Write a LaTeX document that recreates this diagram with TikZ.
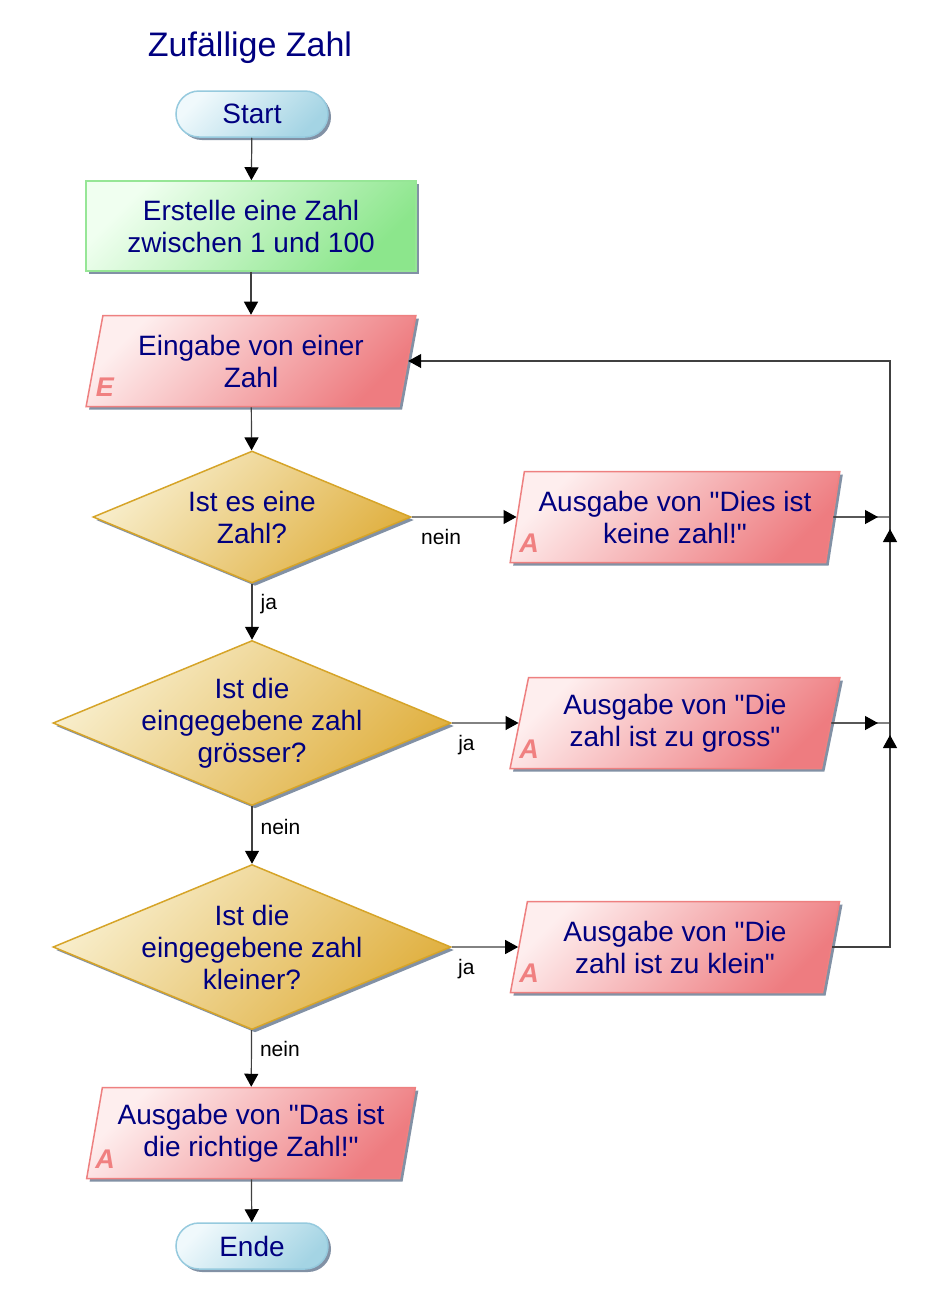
\documentclass[tikz,border=0pt]{standalone}
\usepackage{fontspec}
\setmainfont{Liberation Sans}[Ligatures=TeXOff]
\usetikzlibrary{arrows.meta, shapes.geometric, shadows}

\definecolor{navytext}{RGB}{0,0,128}
\definecolor{linegray}{RGB}{64,64,64}
\definecolor{shadowgray}{RGB}{130,145,165}
\definecolor{termlight}{RGB}{240,249,252}
\definecolor{termfill}{RGB}{164,212,228}
\definecolor{termdraw}{RGB}{150,202,222}
\definecolor{proclight}{RGB}{240,255,240}
\definecolor{procfill}{RGB}{140,230,140}
\definecolor{procdraw}{RGB}{150,230,150}
\definecolor{iolight}{RGB}{254,238,238}
\definecolor{iofill}{RGB}{238,124,128}
\definecolor{iodraw}{RGB}{238,128,128}
\definecolor{declight}{RGB}{248,238,204}
\definecolor{decfill}{RGB}{224,176,64}
\definecolor{decdraw}{RGB}{214,164,40}
\definecolor{iomarkc}{RGB}{240,128,128}

\begin{document}
\begin{tikzpicture}[x=1pt, y=-1pt,
  txt/.style={font=\fontsize{28}{32}\selectfont, text=navytext, align=center},
  box/.style={txt, line width=1.5pt,
    drop shadow={shadow xshift=3pt, shadow yshift=-3pt, fill=shadowgray, opacity=1}},
  term/.style={box, rectangle, rounded corners=23pt, minimum width=152pt, minimum height=46pt,
    draw=termdraw, top color=termlight, bottom color=termfill, shading angle=45},
  proc/.style={box, rectangle, minimum width=330pt, minimum height=90pt,
    draw=procdraw, top color=proclight, bottom color=procfill, shading angle=45},
  iomark/.style={font=\fontsize{27}{30}\selectfont\bfseries\itshape, text=iomarkc, inner sep=0pt},
  io/.style={box, trapezium, trapezium left angle=77, trapezium right angle=103,
    trapezium stretches=true, minimum width=330pt, minimum height=91pt, inner sep=2pt,
    draw=iodraw, top color=iolight, bottom color=iofill, shading angle=45,
    label={[iomark, xshift=-146pt, yshift=-26pt]center:#1}},
  decision/.style={box, diamond, inner sep=0pt,
    draw=decdraw, top color=declight, bottom color=decfill, shading angle=45},
  plain/.style={draw=linegray, line width=1.2pt},
  flow/.style={plain, -{Triangle[length=13pt, width=14pt, color=black]}},
  tipped/.style={plain, postaction={draw=linegray, -{Triangle[length=13pt, width=14pt, color=black]},
    shorten >=12pt}},
  lbl/.style={font=\fontsize{21}{24}\selectfont, text=black, inner sep=2pt},
  title/.style={font=\fontsize{34}{39}\selectfont, text=navytext}]

  % Zufaellige Zahl
  \useasboundingbox[fill=white] (0, 0) rectangle (933, 1312);

  \node[title] (title) at (250, 48) {Zufällige Zahl};
  \node[term] (start) at (252, 114) {Start};
  \node[proc] (make) at (251, 226) {Erstelle eine Zahl\\zwischen 1 und 100};
  \node[io=E] (ein) at (251, 361) {Eingabe von einer\\Zahl};

  \node[decision, minimum width=318pt, minimum height=132pt,
    label={[txt]center:Ist es eine\\Zahl?}] (d1) at (252, 517) {};
  \node[decision, minimum width=398pt, minimum height=165pt,
    label={[txt]center:Ist die\\eingegebene zahl\\grösser?}] (d2) at (252, 723) {};
  \node[decision, minimum width=398pt, minimum height=165pt,
    label={[txt]center:Ist die\\eingegebene zahl\\kleiner?}] (d3) at (252, 947) {};

  \node[io=A] (dies) at (675, 517) {Ausgabe von "Dies ist\\keine zahl!"};
  \node[io=A] (gross) at (675, 723) {Ausgabe von "Die\\zahl ist zu gross"};
  \node[io=A] (klein) at (675, 947) {Ausgabe von "Die\\zahl ist zu klein"};
  \node[io=A] (match) at (251, 1133) {Ausgabe von "Das ist\\die richtige Zahl!"};
  \node[term] (ende) at (252, 1246) {Ende};

  \coordinate (j1) at (890, 517);
  \coordinate (j2) at (890, 723);

  \draw[flow] (start) -- (make);
  \draw[flow] (make) -- (ein);
  \draw[flow] (ein) -- (d1);
  \draw[flow] (d1) -- node[lbl, pos=0.36, right=6pt] (ja1) {ja} (d2);
  \draw[flow] (d2) -- node[lbl, pos=0.36, right=6pt] (nein2) {nein} (d3);
  \draw[flow] (d3) -- node[lbl, pos=0.34, right=6pt] (nein3) {nein} (match);
  \draw[flow] (match) -- (ende);

  \draw[flow] (d1) -- node[lbl, pos=0.28, below=10pt] (nein1) {nein} (dies);
  \draw[flow] (d2) -- node[lbl, pos=0.22, below=10pt] (ja2) {ja} (gross);
  \draw[flow] (d3) -- node[lbl, pos=0.22, below=10pt] (ja3) {ja} (klein);

  \draw[tipped] (dies) -- (j1);
  \draw[tipped] (gross) -- (j2);
  \draw[tipped] (klein) -| (j2);
  \draw[tipped] (j2) -- (j1);
  \draw[flow] (j1) |- (ein);

\end{tikzpicture}
\end{document}
